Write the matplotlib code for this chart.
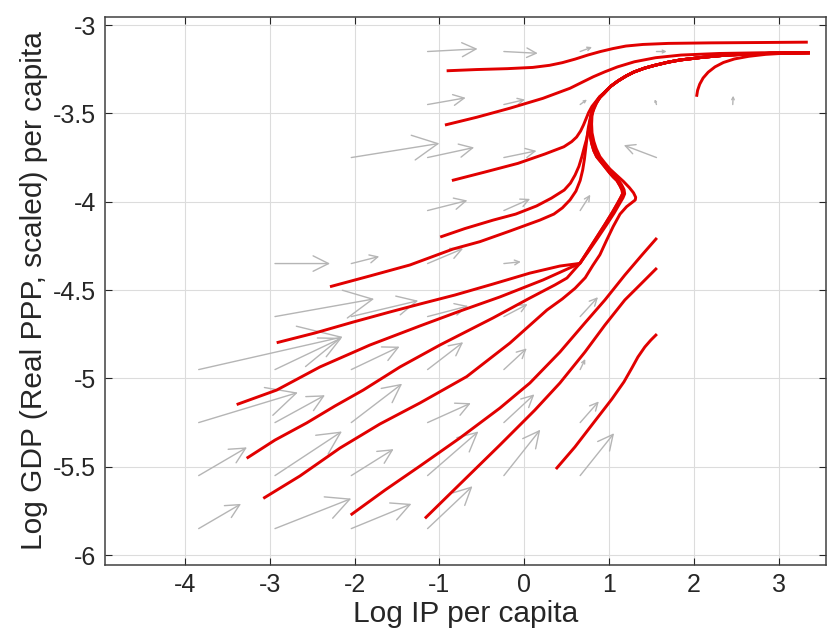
import numpy as np
import matplotlib
matplotlib.use("Agg")
import matplotlib.pyplot as plt

plt.rcParams['font.family'] = ['Liberation Sans', 'DejaVu Sans']

# ---------------- data ----------------
x_ticks = [-4, -3, -2, -1, 0, 1, 2, 3]
x_tick_labels = ['-4', '-3', '-2', '-1', '0', '1', '2', '3']
y_ticks = [-6, -5.5, -5, -4.5, -4, -3.5, -3]
y_tick_labels = ['-6', '-5.5', '-5', '-4.5', '-4', '-3.5', '-3']

# direction field (tail position and displacement)
qx = [-3.84, -2.94, -2.04, -1.14,
      -3.84, -2.94, -2.04, -1.14, -0.24, 0.66,
      -3.84, -2.94, -2.04, -1.14, -0.24, 0.66,
      -3.84, -2.94, -2.04, -1.14, -0.24, 0.66,
      -2.94, -2.04, -1.14, -0.24, 0.66,
      -2.94, -2.04, -1.14, -0.24,
      -1.14, -0.24, 0.66,
      -2.04, -1.14, -0.24, 1.56,
      -1.14, -0.24, 0.66, 1.56, 2.46,
      -1.14, -0.24, 0.66, 1.56]
qy = [-5.85, -5.85, -5.85, -5.85,
      -5.55, -5.55, -5.55, -5.55, -5.55, -5.55,
      -5.25, -5.25, -5.25, -5.25, -5.25, -5.25,
      -4.95, -4.95, -4.95, -4.95, -4.95, -4.95,
      -4.65, -4.65, -4.65, -4.65, -4.65,
      -4.35, -4.35, -4.35, -4.35,
      -4.05, -4.05, -4.05,
      -3.75, -3.75, -3.75, -3.75,
      -3.45, -3.45, -3.45, -3.45, -3.45,
      -3.15, -3.15, -3.15, -3.15]
qu = [0.50, 0.90, 0.71, 0.53,
      0.57, 0.79, 0.50, 0.60, 0.43, 0.40,
      1.17, 0.59, 0.60, 0.51, 0.36, 0.22,
      1.70, 0.79, 0.57, 0.42, 0.27, 0.06,
      1.17, 0.79, 0.48, 0.28, 0.21,
      0.65, 0.33, 0.42, 0.20,
      0.47, 0.31, 0.12,
      1.04, 0.55, 0.385, -0.385,
      0.45, 0.25, 0.08, -0.02, 0.005,
      0.59, 0.40, 0.14, 0.12]
qv = [0.14, 0.17, 0.14, 0.24,
      0.16, 0.25, 0.15, 0.25, 0.26, 0.24,
      0.17, 0.155, 0.22, 0.11, 0.16, 0.12,
      0.185, 0.18, 0.13, 0.155, 0.12, 0.06,
      0.10, 0.09, 0.06, 0.07, 0.11,
      0.0, 0.04, 0.085, 0.01,
      0.057, 0.066, 0.09,
      0.08, 0.057, 0.038, 0.07,
      0.038, 0.028, 0.028, 0.03, 0.05,
      0.015, -0.01, 0.025, 0.0]

# shared segments of trajectories (node -> S bend, and final approach)
node_up_x = [0.657, 0.75, 0.85, 0.95, 1.04, 1.10, 1.14, 1.16, 1.155, 1.13,
             1.093, 1.05, 1.011, 0.93, 0.854, 0.82, 0.795, 0.78, 0.775, 0.777,
             0.79, 0.815, 0.85, 0.89, 0.94]
node_up_y = [-4.349, -4.28, -4.205, -4.13, -4.06, -4.01, -3.975, -3.955,
             -3.935, -3.91, -3.88, -3.86, -3.839, -3.79, -3.745, -3.71,
             -3.669, -3.63, -3.594, -3.55, -3.505, -3.465, -3.435, -3.408,
             -3.385]
node_up2_x = [0.657, 0.755, 0.86, 0.965, 1.06, 1.12, 1.165, 1.185, 1.178,
              1.15, 1.11, 1.065, 1.02, 0.94, 0.865, 0.83, 0.803, 0.787, 0.782,
              0.783, 0.795, 0.82, 0.855, 0.895, 0.94]
node_up2_y = [-4.349, -4.283, -4.21, -4.135, -4.065, -4.015, -3.978, -3.955,
              -3.932, -3.905, -3.876, -3.853, -3.83, -3.782, -3.738, -3.705,
              -3.665, -3.625, -3.59, -3.55, -3.505, -3.467, -3.437, -3.41,
              -3.385]
upper_x = [1.02, 1.105, 1.2, 1.294, 1.42, 1.541, 1.7, 1.836, 2.1, 2.39, 2.9,
           3.37]
upper_y = [-3.347, -3.317, -3.289, -3.266, -3.244, -3.228, -3.21, -3.198,
           -3.183, -3.170, -3.160, -3.157]

# individual trajectories
traj_a_x = [-0.915, -0.56, -0.2, 0.1, 0.3, 0.45, 0.6, 0.75, 0.9, 1.05, 1.2,
            1.4, 1.7, 2.2, 2.8, 3.345]
traj_a_y = [-3.259, -3.252, -3.247, -3.240, -3.228, -3.213, -3.193, -3.170,
            -3.150, -3.133, -3.119, -3.110, -3.104, -3.101, -3.099, -3.097]
traj_b_x = [-0.935, -0.56, -0.17, 0.22, 0.54, 0.7, 0.814, 0.95, 1.1, 1.3,
            1.55, 1.85, 2.3, 2.8, 3.37]
traj_b_y = [-3.566, -3.522, -3.471, -3.415, -3.358, -3.32, -3.293, -3.265,
            -3.237, -3.208, -3.185, -3.170, -3.161, -3.157, -3.156]
traj_hook_x = [2.033, 2.045, 2.07, 2.11, 2.17, 2.25, 2.35, 2.48, 2.65, 2.85,
               3.1, 3.37]
traj_hook_y = [-3.406, -3.37, -3.335, -3.30, -3.267, -3.237, -3.212, -3.192,
               -3.177, -3.166, -3.159, -3.157]
traj_c_x = [-0.853, -0.463, -0.074, 0.244, 0.468, 0.56, 0.618, 0.665, 0.70,
            0.73, 0.76, 0.80, 0.85, 0.89, 0.94]
traj_c_y = [-3.880, -3.832, -3.783, -3.730, -3.689, -3.66, -3.634, -3.60,
            -3.565, -3.53, -3.495, -3.46, -3.43, -3.405, -3.385]
traj_d_x = [-0.991, -0.70, -0.366, -0.1, 0.146, 0.32, 0.472, 0.545, 0.60,
            0.645, 0.68, 0.71, 0.739, 0.76, 0.78, 0.81, 0.85, 0.89, 0.94]
traj_d_y = [-4.200, -4.152, -4.104, -4.07, -4.024, -3.98, -3.934, -3.895,
            -3.849, -3.80, -3.745, -3.69, -3.64, -3.59, -3.54, -3.49, -3.445,
            -3.41, -3.385]
traj_e_x = [-2.291, -1.819, -1.348, -0.841, -0.522, -0.169, 0.185, 0.35, 0.45,
            0.54, 0.61, 0.66, 0.69, 0.71, 0.725, 0.74, 0.755, 0.775, 0.80,
            0.84, 0.89, 0.94]
traj_e_y = [-4.481, -4.420, -4.358, -4.268, -4.226, -4.166, -4.104, -4.07,
            -4.035, -3.99, -3.94, -3.88, -3.82, -3.76, -3.70, -3.64, -3.585,
            -3.535, -3.49, -3.445, -3.41, -3.385]
traj_f_x = [-2.920, -2.469, -2.017, -1.584, -1.230, -0.817, -0.369, 0.067,
            0.421]
traj_f_y = [-4.798, -4.743, -4.681, -4.624, -4.579, -4.528, -4.466, -4.404,
            -4.364]
traj_g_x = [-3.392, -2.920, -2.409, -1.820, -1.230, -0.758, -0.287, 0.221,
            0.480]
traj_g_y = [-5.148, -5.066, -4.935, -4.811, -4.703, -4.619, -4.539, -4.443,
            -4.387]
traj_h_x = [-3.274, -2.940, -2.566, -2.232, -1.899, -1.465, -0.994, -0.369,
            0.067, 0.362, 0.504]
traj_h_y = [-5.452, -5.349, -5.252, -5.156, -5.066, -4.935, -4.811, -4.658,
            -4.545, -4.471, -4.432]
traj_k_x = [-3.078, -2.645, -2.173, -1.702, -1.230, -0.679, -0.169, 0.268,
            0.45, 0.60, 0.72, 0.81, 0.893, 0.97, 1.05, 1.13, 1.208, 1.27,
            1.31, 1.315, 1.29, 1.24, 1.17, 1.09, 1.011, 0.95, 0.893, 0.85,
            0.822, 0.80, 0.795, 0.80, 0.82, 0.85, 0.89, 0.94]
traj_k_y = [-5.679, -5.552, -5.394, -5.258, -5.139, -4.990, -4.800, -4.613,
            -4.55, -4.49, -4.43, -4.36, -4.30, -4.22, -4.14, -4.07, -4.028,
            -4.005, -3.99, -3.975, -3.95, -3.92, -3.885, -3.85, -3.815,
            -3.78, -3.745, -3.70, -3.66, -3.61, -3.56, -3.51, -3.47, -3.44,
            -3.412, -3.39]
traj_l1_x = [-2.047, -1.642, -1.230, -0.758, -0.287, 0.067, 0.421, 0.716,
             0.952, 1.187, 1.388, 1.565]
traj_l1_y = [-5.773, -5.632, -5.496, -5.337, -5.168, -5.026, -4.851, -4.686,
             -4.556, -4.415, -4.302, -4.205]
traj_l2_x = [-1.171, -0.758, -0.287, 0.126, 0.421, 0.716, 0.952, 1.187,
             1.388, 1.565]
traj_l2_y = [-5.792, -5.598, -5.377, -5.179, -5.026, -4.851, -4.698, -4.556,
             -4.460, -4.375]
traj_l3_x = [0.374, 0.598, 0.834, 1.034, 1.176, 1.270, 1.341, 1.423, 1.494,
             1.565]
traj_l3_y = [-5.513, -5.388, -5.241, -5.117, -5.020, -4.941, -4.879, -4.822,
             -4.783, -4.749]

# ---------------- figure ----------------
fig = plt.figure(figsize=(8.28, 6.32), dpi=100)
ax = fig.add_axes([0.1263, 0.106, 0.8713, 0.867])
ax.set_xlim(-4.95, 3.56)
ax.set_ylim(-6.056, -2.955)
ax.set_axisbelow(True)
ax.grid(True, color='#dcdcdc', linewidth=0.8)

# arrows (open V heads, size proportional to length)
for x, y, u, v in zip(qx, qy, qu, qv):
    p0 = ax.transData.transform((x, y))
    p1 = ax.transData.transform((x + u, y + v))
    L = np.hypot(*(p1 - p0)) * 72.0 / fig.dpi
    style = '->,head_length=%.3f,head_width=%.3f' % (0.28 * L, 0.14 * L)
    ax.annotate('', xy=(x + u, y + v), xytext=(x, y),
                arrowprops=dict(arrowstyle=style, color='#b5b5b5', lw=1.0,
                                shrinkA=0, shrinkB=0, mutation_scale=1),
                zorder=2)

red = '#e10000'
lw = 2.1

def draw(xs, ys):
    ax.plot(xs, ys, color=red, lw=lw, solid_capstyle='butt',
            solid_joinstyle='round', zorder=3)

draw(traj_a_x, traj_a_y)
draw(traj_b_x, traj_b_y)
draw(traj_hook_x, traj_hook_y)
draw(traj_c_x + upper_x, traj_c_y + upper_y)
draw(traj_d_x + upper_x, traj_d_y + upper_y)
draw(traj_e_x + upper_x, traj_e_y + upper_y)
draw(traj_f_x + node_up_x + upper_x, traj_f_y + node_up_y + upper_y)
draw(traj_g_x + node_up2_x + upper_x, traj_g_y + node_up2_y + upper_y)
draw(traj_h_x + node_up_x + upper_x, traj_h_y + node_up_y + upper_y)
draw(traj_k_x + upper_x, traj_k_y + upper_y)
draw(traj_l1_x, traj_l1_y)
draw(traj_l2_x, traj_l2_y)
draw(traj_l3_x, traj_l3_y)

ax.set_xticks(x_ticks)
ax.set_xticklabels(x_tick_labels)
ax.set_yticks(y_ticks)
ax.set_yticklabels(y_tick_labels)
ax.tick_params(direction='in', top=True, right=True, length=5, width=0.8,
               labelsize=18, pad=6, colors='#262626')
for s in ax.spines.values():
    s.set_color('#404040')
    s.set_linewidth(1.1)

ax.set_xlabel('Log IP per capita', fontsize=21.5, labelpad=2, color='#262626')
ax.set_ylabel('Log GDP (Real PPP, scaled) per capita', fontsize=21.5,
              labelpad=4, color='#262626')

fig.savefig('out.png', dpi=100)
